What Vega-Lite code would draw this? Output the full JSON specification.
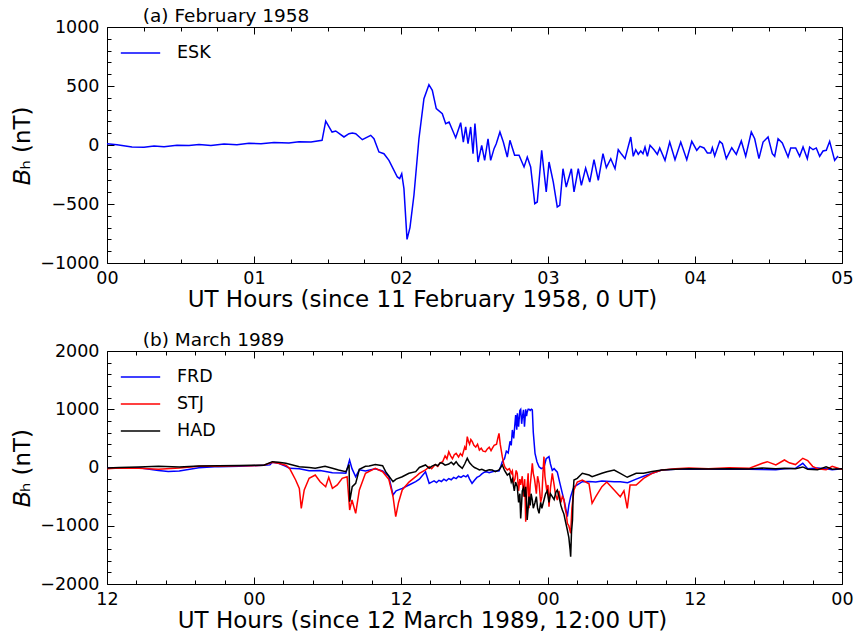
{
"$schema": "https://vega.github.io/schema/vega-lite/v6.json",
"background": "white",
"padding": {"left": 11, "top": 6, "right": 10, "bottom": 2},
"spacing": 18,
"config": {
  "font": "DejaVu Sans",
  "view": {"stroke": "black", "strokeWidth": 1},
  "axis": {"grid": false, "domain": false, "tickColor": "black", "tickWidth": 1, "labelColor": "black", "labelFontSize": 17.5, "titleFontSize": 23, "titleFontWeight": "normal", "titleColor": "black", "labelFont": "DejaVu Sans", "titleFont": "DejaVu Sans", "labelOverlap": false, "labelBound": false, "labelFlush": false},
  "legend": {"labelFontSize": 17.5, "labelFont": "DejaVu Sans", "labelColor": "black"},
  "title": {"fontSize": 18.5, "fontWeight": "normal", "font": "DejaVu Sans", "color": "black", "anchor": "start", "dx": 131, "offset": -7}
},
"resolve": {"scale": {"color": "independent", "x": "independent", "y": "independent"}, "legend": {"color": "independent"}},
"vconcat": [
{
  "width": 735, "height": 236,
  "title": {"text": "(a) February 1958"},
  "data": {"values": [
{"s":"ESK","t":0,"v":10},{"s":"ESK","t":0.068,"v":2},{"s":"ESK","t":0.17,"v":-17},{"s":"ESK","t":0.252,"v":-20},{"s":"ESK","t":0.32,"v":-8},{"s":"ESK","t":0.388,"v":-15},{"s":"ESK","t":0.476,"v":-3},{"s":"ESK","t":0.558,"v":-5},{"s":"ESK","t":0.626,"v":5},{"s":"ESK","t":0.707,"v":-5},{"s":"ESK","t":0.796,"v":8},{"s":"ESK","t":0.884,"v":2},{"s":"ESK","t":0.966,"v":15},{"s":"ESK","t":1.048,"v":10},{"s":"ESK","t":1.136,"v":22},{"s":"ESK","t":1.238,"v":18},{"s":"ESK","t":1.306,"v":28},{"s":"ESK","t":1.388,"v":25},{"s":"ESK","t":1.463,"v":40},{"s":"ESK","t":1.488,"v":203},{"s":"ESK","t":1.531,"v":110},{"s":"ESK","t":1.556,"v":119},{"s":"ESK","t":1.612,"v":68},{"s":"ESK","t":1.646,"v":96},{"s":"ESK","t":1.669,"v":102},{"s":"ESK","t":1.692,"v":96},{"s":"ESK","t":1.737,"v":45},{"s":"ESK","t":1.794,"v":82},{"s":"ESK","t":1.816,"v":53},{"s":"ESK","t":1.85,"v":-59},{"s":"ESK","t":1.884,"v":-74},{"s":"ESK","t":1.918,"v":-130},{"s":"ESK","t":1.975,"v":-271},{"s":"ESK","t":1.991,"v":-285},{"s":"ESK","t":2.005,"v":-243},{"s":"ESK","t":2.02,"v":-370},{"s":"ESK","t":2.041,"v":-800},{"s":"ESK","t":2.061,"v":-700},{"s":"ESK","t":2.088,"v":-426},{"s":"ESK","t":2.122,"v":53},{"s":"ESK","t":2.156,"v":392},{"s":"ESK","t":2.19,"v":511},{"s":"ESK","t":2.213,"v":463},{"s":"ESK","t":2.24,"v":308},{"s":"ESK","t":2.281,"v":265},{"s":"ESK","t":2.304,"v":181},{"s":"ESK","t":2.327,"v":195},{"s":"ESK","t":2.372,"v":62},{"s":"ESK","t":2.406,"v":189},{"s":"ESK","t":2.424,"v":25},{"s":"ESK","t":2.44,"v":153},{"s":"ESK","t":2.456,"v":11},{"s":"ESK","t":2.474,"v":153},{"s":"ESK","t":2.49,"v":-74},{"s":"ESK","t":2.503,"v":181},{"s":"ESK","t":2.524,"v":-144},{"s":"ESK","t":2.549,"v":-3},{"s":"ESK","t":2.569,"v":-130},{"s":"ESK","t":2.592,"v":53},{"s":"ESK","t":2.61,"v":-130},{"s":"ESK","t":2.633,"v":-31},{"s":"ESK","t":2.648,"v":11},{"s":"ESK","t":2.673,"v":110},{"s":"ESK","t":2.696,"v":25},{"s":"ESK","t":2.723,"v":-102},{"s":"ESK","t":2.741,"v":40},{"s":"ESK","t":2.773,"v":-87},{"s":"ESK","t":2.803,"v":-87},{"s":"ESK","t":2.837,"v":-186},{"s":"ESK","t":2.859,"v":-102},{"s":"ESK","t":2.882,"v":-186},{"s":"ESK","t":2.91,"v":-497},{"s":"ESK","t":2.927,"v":-483},{"s":"ESK","t":2.957,"v":-45},{"s":"ESK","t":2.988,"v":-398},{"s":"ESK","t":3.007,"v":-144},{"s":"ESK","t":3.036,"v":-314},{"s":"ESK","t":3.063,"v":-525},{"s":"ESK","t":3.08,"v":-511},{"s":"ESK","t":3.102,"v":-201},{"s":"ESK","t":3.124,"v":-356},{"s":"ESK","t":3.159,"v":-201},{"s":"ESK","t":3.177,"v":-398},{"s":"ESK","t":3.206,"v":-201},{"s":"ESK","t":3.227,"v":-342},{"s":"ESK","t":3.256,"v":-195},{"s":"ESK","t":3.284,"v":-314},{"s":"ESK","t":3.313,"v":-124},{"s":"ESK","t":3.342,"v":-299},{"s":"ESK","t":3.374,"v":-74},{"s":"ESK","t":3.397,"v":-192},{"s":"ESK","t":3.427,"v":-116},{"s":"ESK","t":3.456,"v":-201},{"s":"ESK","t":3.478,"v":-40},{"s":"ESK","t":3.501,"v":-79},{"s":"ESK","t":3.524,"v":-116},{"s":"ESK","t":3.563,"v":68},{"s":"ESK","t":3.58,"v":-96},{"s":"ESK","t":3.597,"v":-40},{"s":"ESK","t":3.614,"v":-79},{"s":"ESK","t":3.631,"v":-51},{"s":"ESK","t":3.646,"v":-74},{"s":"ESK","t":3.66,"v":-17},{"s":"ESK","t":3.676,"v":-96},{"s":"ESK","t":3.694,"v":-3},{"s":"ESK","t":3.721,"v":-40},{"s":"ESK","t":3.744,"v":-79},{"s":"ESK","t":3.76,"v":-25},{"s":"ESK","t":3.796,"v":-130},{"s":"ESK","t":3.828,"v":25},{"s":"ESK","t":3.864,"v":-124},{"s":"ESK","t":3.903,"v":25},{"s":"ESK","t":3.944,"v":-124},{"s":"ESK","t":3.978,"v":31},{"s":"ESK","t":4.012,"v":-45},{"s":"ESK","t":4.034,"v":-11},{"s":"ESK","t":4.061,"v":-25},{"s":"ESK","t":4.084,"v":-68},{"s":"ESK","t":4.107,"v":-68},{"s":"ESK","t":4.118,"v":-23},{"s":"ESK","t":4.134,"v":-93},{"s":"ESK","t":4.168,"v":31},{"s":"ESK","t":4.186,"v":11},{"s":"ESK","t":4.213,"v":-116},{"s":"ESK","t":4.25,"v":-23},{"s":"ESK","t":4.281,"v":-79},{"s":"ESK","t":4.315,"v":34},{"s":"ESK","t":4.345,"v":-96},{"s":"ESK","t":4.383,"v":110},{"s":"ESK","t":4.406,"v":53},{"s":"ESK","t":4.435,"v":-116},{"s":"ESK","t":4.463,"v":25},{"s":"ESK","t":4.497,"v":68},{"s":"ESK","t":4.526,"v":-74},{"s":"ESK","t":4.542,"v":-96},{"s":"ESK","t":4.565,"v":53},{"s":"ESK","t":4.594,"v":17},{"s":"ESK","t":4.633,"v":-102},{"s":"ESK","t":4.651,"v":-25},{"s":"ESK","t":4.685,"v":-25},{"s":"ESK","t":4.712,"v":-96},{"s":"ESK","t":4.735,"v":-17},{"s":"ESK","t":4.764,"v":-116},{"s":"ESK","t":4.78,"v":-17},{"s":"ESK","t":4.803,"v":-40},{"s":"ESK","t":4.825,"v":-25},{"s":"ESK","t":4.848,"v":-96},{"s":"ESK","t":4.871,"v":-51},{"s":"ESK","t":4.893,"v":-45},{"s":"ESK","t":4.916,"v":31},{"s":"ESK","t":4.95,"v":-130},{"s":"ESK","t":4.973,"v":-93}
  ]},
  "layer": [
    {
      "mark": {"type": "line", "strokeWidth": 1.5},
      "encoding": {
        "x": {"field": "t", "type": "quantitative", "scale": {"domain": [0, 5], "nice": false, "zero": false},
          "axis": {"orient": "bottom", "values": [0,0.25,0.5,0.75,1,1.25,1.5,1.75,2,2.25,2.5,2.75,3,3.25,3.5,3.75,4,4.25,4.5,4.75,5],
            "tickSize": {"condition": {"test": "datum.value % 1 === 0", "value": -7}, "value": -4},
            "labelExpr": "datum.value % 1 === 0 ? '0' + datum.value : ''", "labelPadding": 13,
            "title": "UT Hours (since 11 February 1958, 0 UT)", "titleX": 315, "titlePadding": -1}},
        "y": {"field": "v", "type": "quantitative", "scale": {"domain": [-1000, 1000], "nice": false},
          "axis": {"orient": "left", "values": [-1000,-900,-800,-700,-600,-500,-400,-300,-200,-100,0,100,200,300,400,500,600,700,800,900,1000],
            "tickSize": {"condition": {"test": "datum.value % 500 === 0", "value": -7}, "value": -4},
            "format": "d", "labelExpr": "datum.value % 500 === 0 ? datum.label : ''", "labelPadding": 15,
            "title": "𝐵ₕ (nT)", "titlePadding": 5}},
        "color": {"field": "s", "type": "nominal", "scale": {"domain": ["ESK"], "range": ["#0000ff"]},
          "legend": {"title": null, "orient": "top-left", "symbolType": "stroke", "symbolSize": 1550, "symbolStrokeWidth": 1.5, "offset": 13, "padding": 0, "labelOffset": 16, "clipHeight": 26, "rowPadding": 1}}
      }
    },
    {
      "mark": {"type": "line", "opacity": 0},
      "encoding": {
        "x": {"field": "t", "type": "quantitative",
          "axis": {"orient": "top", "values": [0,0.25,0.5,0.75,1,1.25,1.5,1.75,2,2.25,2.5,2.75,3,3.25,3.5,3.75,4,4.25,4.5,4.75,5],
            "tickSize": {"condition": {"test": "datum.value % 1 === 0", "value": -7}, "value": -4},
            "labels": false, "title": null}},
        "y": {"field": "v", "type": "quantitative",
          "axis": {"orient": "right", "values": [-1000,-900,-800,-700,-600,-500,-400,-300,-200,-100,0,100,200,300,400,500,600,700,800,900,1000],
            "tickSize": {"condition": {"test": "datum.value % 500 === 0", "value": -7}, "value": -4},
            "labels": false, "title": null}},
        "detail": {"field": "s", "type": "nominal"}
      }
    }
  ],
  "resolve": {"axis": {"x": "independent", "y": "independent"}}
},
{
  "width": 735, "height": 233,
  "title": {"text": "(b) March 1989"},
  "data": {"values": [
{"s":"FRD","t":0,"v":-10},{"s":"FRD","t":1,"v":-15},{"s":"FRD","t":2.6,"v":-5},{"s":"FRD","t":4.2,"v":-50},{"s":"FRD","t":5.0,"v":-70},{"s":"FRD","t":5.9,"v":-60},{"s":"FRD","t":7.5,"v":-5},{"s":"FRD","t":9.1,"v":15},{"s":"FRD","t":10.8,"v":20},{"s":"FRD","t":11.8,"v":30},{"s":"FRD","t":12.8,"v":40},{"s":"FRD","t":13.3,"v":45},{"s":"FRD","t":13.5,"v":90},{"s":"FRD","t":14.0,"v":72},{"s":"FRD","t":14.6,"v":20},{"s":"FRD","t":14.9,"v":-14},{"s":"FRD","t":15.7,"v":-20},{"s":"FRD","t":16.5,"v":-55},{"s":"FRD","t":17.4,"v":-50},{"s":"FRD","t":18.4,"v":-89},{"s":"FRD","t":19.2,"v":-95},{"s":"FRD","t":19.5,"v":-100},{"s":"FRD","t":19.8,"v":129},{"s":"FRD","t":20.0,"v":-20},{"s":"FRD","t":20.3,"v":-158},{"s":"FRD","t":20.6,"v":-40},{"s":"FRD","t":21.1,"v":-60},{"s":"FRD","t":21.9,"v":-20},{"s":"FRD","t":22.5,"v":-60},{"s":"FRD","t":23.0,"v":-150},{"s":"FRD","t":23.35,"v":-472},{"s":"FRD","t":23.6,"v":-400},{"s":"FRD","t":24.1,"v":-358},{"s":"FRD","t":24.65,"v":-300},{"s":"FRD","t":25.2,"v":-243},{"s":"FRD","t":25.5,"v":-200},
{"s":"FRD","t":26.0,"v":-72},{"s":"FRD","t":26.3,"v":-272},{"s":"FRD","t":26.5,"v":-250},{"s":"FRD","t":26.7,"v":-230},{"s":"FRD","t":26.9,"v":-260},{"s":"FRD","t":27.1,"v":-220},{"s":"FRD","t":27.3,"v":-240},{"s":"FRD","t":27.5,"v":-200},{"s":"FRD","t":27.7,"v":-230},{"s":"FRD","t":27.9,"v":-190},{"s":"FRD","t":28.1,"v":-210},{"s":"FRD","t":28.3,"v":-170},{"s":"FRD","t":28.5,"v":-190},{"s":"FRD","t":28.7,"v":-150},{"s":"FRD","t":28.9,"v":-170},{"s":"FRD","t":29.1,"v":-140},{"s":"FRD","t":29.3,"v":-160},{"s":"FRD","t":29.45,"v":-129},{"s":"FRD","t":29.6,"v":-200},{"s":"FRD","t":29.8,"v":-272},{"s":"FRD","t":30.0,"v":-220},{"s":"FRD","t":30.2,"v":-170},{"s":"FRD","t":30.4,"v":-150},{"s":"FRD","t":30.6,"v":-110},{"s":"FRD","t":30.8,"v":-80},{"s":"FRD","t":31.0,"v":-72},{"s":"FRD","t":31.2,"v":-90},{"s":"FRD","t":31.45,"v":-72},{"s":"FRD","t":31.7,"v":-60},{"s":"FRD","t":32.0,"v":-60},{"s":"FRD","t":32.15,"v":20},{"s":"FRD","t":32.27,"v":100},{"s":"FRD","t":32.45,"v":150},{"s":"FRD","t":32.6,"v":280},{"s":"FRD","t":32.75,"v":250},{"s":"FRD","t":32.9,"v":450},{"s":"FRD","t":33.0,"v":380},{"s":"FRD","t":33.09,"v":644},{"s":"FRD","t":33.2,"v":500},{"s":"FRD","t":33.3,"v":750},{"s":"FRD","t":33.36,"v":900},{"s":"FRD","t":33.45,"v":650},{"s":"FRD","t":33.5,"v":930},{"s":"FRD","t":33.6,"v":700},{"s":"FRD","t":33.7,"v":980},{"s":"FRD","t":33.77,"v":1000},{"s":"FRD","t":33.85,"v":750},{"s":"FRD","t":33.9,"v":850},{"s":"FRD","t":34.0,"v":990},{"s":"FRD","t":34.08,"v":700},{"s":"FRD","t":34.18,"v":1000},{"s":"FRD","t":34.25,"v":880},{"s":"FRD","t":34.3,"v":950},{"s":"FRD","t":34.38,"v":1000},{"s":"FRD","t":34.45,"v":1000},{"s":"FRD","t":34.55,"v":980},{"s":"FRD","t":34.65,"v":1000},{"s":"FRD","t":34.72,"v":990},{"s":"FRD","t":34.8,"v":600},{"s":"FRD","t":34.94,"v":243},{"s":"FRD","t":35.1,"v":100},{"s":"FRD","t":35.27,"v":14},{"s":"FRD","t":35.45,"v":-20},{"s":"FRD","t":35.67,"v":0},{"s":"FRD","t":35.85,"v":150},{"s":"FRD","t":36.08,"v":186},{"s":"FRD","t":36.2,"v":60},{"s":"FRD","t":36.35,"v":-50},{"s":"FRD","t":36.5,"v":-20},{"s":"FRD","t":36.76,"v":-80},{"s":"FRD","t":36.95,"v":-250},{"s":"FRD","t":37.17,"v":-443},{"s":"FRD","t":37.35,"v":-600},{"s":"FRD","t":37.58,"v":-845},{"s":"FRD","t":37.7,"v":-650},{"s":"FRD","t":37.85,"v":-500},{"s":"FRD","t":38.0,"v":-400},{"s":"FRD","t":38.12,"v":-330},
{"s":"FRD","t":38.39,"v":-300},{"s":"FRD","t":38.8,"v":-243},{"s":"FRD","t":39.35,"v":-240},{"s":"FRD","t":39.9,"v":-250},{"s":"FRD","t":40.4,"v":-230},{"s":"FRD","t":41.4,"v":-243},{"s":"FRD","t":41.9,"v":-243},{"s":"FRD","t":42.5,"v":-260},{"s":"FRD","t":43.2,"v":-200},{"s":"FRD","t":43.8,"v":-150},{"s":"FRD","t":44.5,"v":-100},{"s":"FRD","t":45.3,"v":-43},{"s":"FRD","t":46.4,"v":-31},{"s":"FRD","t":47.5,"v":-25},{"s":"FRD","t":49.1,"v":-30},{"s":"FRD","t":50.8,"v":-25},{"s":"FRD","t":52.4,"v":-30},{"s":"FRD","t":53.5,"v":-35},{"s":"FRD","t":54.6,"v":-40},{"s":"FRD","t":55.3,"v":-20},{"s":"FRD","t":56.2,"v":-14},{"s":"FRD","t":56.8,"v":72},{"s":"FRD","t":57.2,"v":-20},{"s":"FRD","t":58.0,"v":-10},{"s":"FRD","t":58.7,"v":-20},{"s":"FRD","t":59.2,"v":-40},{"s":"FRD","t":60,"v":-20},
{"s":"STJ","t":0,"v":-20},{"s":"STJ","t":1,"v":-10},{"s":"STJ","t":2.6,"v":-15},{"s":"STJ","t":4.2,"v":-30},{"s":"STJ","t":5.9,"v":-10},{"s":"STJ","t":7.5,"v":20},{"s":"STJ","t":9.1,"v":20},{"s":"STJ","t":10.8,"v":30},{"s":"STJ","t":11.8,"v":30},{"s":"STJ","t":12.8,"v":40},{"s":"STJ","t":13.5,"v":90},{"s":"STJ","t":14.0,"v":72},{"s":"STJ","t":14.6,"v":40},{"s":"STJ","t":14.9,"v":-14},{"s":"STJ","t":15.4,"v":-215},{"s":"STJ","t":15.7,"v":-358},{"s":"STJ","t":15.86,"v":-701},{"s":"STJ","t":16.1,"v":-386},{"s":"STJ","t":16.5,"v":-186},{"s":"STJ","t":17.0,"v":-129},{"s":"STJ","t":17.4,"v":-244},{"s":"STJ","t":17.85,"v":-330},{"s":"STJ","t":18.1,"v":-168},{"s":"STJ","t":18.4,"v":-358},{"s":"STJ","t":18.8,"v":-300},{"s":"STJ","t":19.2,"v":-186},{"s":"STJ","t":19.6,"v":-158},{"s":"STJ","t":19.81,"v":-730},{"s":"STJ","t":20.0,"v":-558},{"s":"STJ","t":20.3,"v":-787},{"s":"STJ","t":20.6,"v":-386},{"s":"STJ","t":21.1,"v":-100},{"s":"STJ","t":21.9,"v":-14},{"s":"STJ","t":22.5,"v":-72},{"s":"STJ","t":23.0,"v":-200},{"s":"STJ","t":23.35,"v":-500},{"s":"STJ","t":23.57,"v":-845},{"s":"STJ","t":23.8,"v":-600},{"s":"STJ","t":24.1,"v":-386},{"s":"STJ","t":24.65,"v":-250},{"s":"STJ","t":25.2,"v":-158},{"s":"STJ","t":25.5,"v":-100},
{"s":"STJ","t":26.0,"v":-43},{"s":"STJ","t":26.3,"v":14},{"s":"STJ","t":26.5,"v":-20},{"s":"STJ","t":26.8,"v":50},{"s":"STJ","t":27.0,"v":20},{"s":"STJ","t":27.2,"v":80},{"s":"STJ","t":27.4,"v":100},{"s":"STJ","t":27.6,"v":200},{"s":"STJ","t":27.75,"v":150},{"s":"STJ","t":27.9,"v":271},{"s":"STJ","t":28.05,"v":200},{"s":"STJ","t":28.2,"v":150},{"s":"STJ","t":28.35,"v":220},{"s":"STJ","t":28.5,"v":243},{"s":"STJ","t":28.7,"v":180},{"s":"STJ","t":28.85,"v":240},{"s":"STJ","t":29.0,"v":200},{"s":"STJ","t":29.2,"v":350},{"s":"STJ","t":29.3,"v":300},{"s":"STJ","t":29.41,"v":529},{"s":"STJ","t":29.5,"v":450},{"s":"STJ","t":29.6,"v":400},{"s":"STJ","t":29.7,"v":480},{"s":"STJ","t":29.82,"v":443},{"s":"STJ","t":29.95,"v":380},{"s":"STJ","t":30.1,"v":350},{"s":"STJ","t":30.25,"v":400},{"s":"STJ","t":30.4,"v":300},{"s":"STJ","t":30.55,"v":330},{"s":"STJ","t":30.7,"v":280},{"s":"STJ","t":30.9,"v":271},{"s":"STJ","t":31.05,"v":320},{"s":"STJ","t":31.2,"v":350},{"s":"STJ","t":31.35,"v":290},{"s":"STJ","t":31.45,"v":329},{"s":"STJ","t":31.6,"v":380},{"s":"STJ","t":31.8,"v":400},{"s":"STJ","t":31.9,"v":500},{"s":"STJ","t":32.0,"v":587},{"s":"STJ","t":32.1,"v":400},{"s":"STJ","t":32.27,"v":186},{"s":"STJ","t":32.4,"v":50},{"s":"STJ","t":32.5,"v":0},{"s":"STJ","t":32.68,"v":-43},{"s":"STJ","t":32.85,"v":-20},{"s":"STJ","t":33.0,"v":-100},{"s":"STJ","t":33.09,"v":-60},{"s":"STJ","t":33.2,"v":-250},{"s":"STJ","t":33.3,"v":-200},{"s":"STJ","t":33.4,"v":-50},{"s":"STJ","t":33.49,"v":-100},{"s":"STJ","t":33.6,"v":-400},{"s":"STJ","t":33.7,"v":-200},{"s":"STJ","t":33.77,"v":-300},{"s":"STJ","t":33.9,"v":-150},{"s":"STJ","t":34.0,"v":-500},{"s":"STJ","t":34.1,"v":-200},{"s":"STJ","t":34.18,"v":-931},{"s":"STJ","t":34.25,"v":-500},{"s":"STJ","t":34.3,"v":-300},{"s":"STJ","t":34.38,"v":-100},{"s":"STJ","t":34.45,"v":-700},{"s":"STJ","t":34.55,"v":-300},{"s":"STJ","t":34.62,"v":-150},{"s":"STJ","t":34.72,"v":72},{"s":"STJ","t":34.8,"v":-100},{"s":"STJ","t":34.9,"v":-200},{"s":"STJ","t":35.05,"v":-450},{"s":"STJ","t":35.15,"v":-150},{"s":"STJ","t":35.27,"v":-272},{"s":"STJ","t":35.4,"v":-600},{"s":"STJ","t":35.5,"v":-500},{"s":"STJ","t":35.6,"v":-50},{"s":"STJ","t":35.67,"v":186},{"s":"STJ","t":35.75,"v":-150},{"s":"STJ","t":35.9,"v":-400},{"s":"STJ","t":36.0,"v":-300},{"s":"STJ","t":36.08,"v":-673},{"s":"STJ","t":36.2,"v":-350},{"s":"STJ","t":36.35,"v":-100},{"s":"STJ","t":36.5,"v":-300},{"s":"STJ","t":36.6,"v":-450},{"s":"STJ","t":36.76,"v":-558},{"s":"STJ","t":36.9,"v":-400},{"s":"STJ","t":37.05,"v":-600},{"s":"STJ","t":37.17,"v":-500},{"s":"STJ","t":37.3,"v":-550},{"s":"STJ","t":37.4,"v":-700},{"s":"STJ","t":37.5,"v":-800},{"s":"STJ","t":37.58,"v":-959},{"s":"STJ","t":37.7,"v":-1000},{"s":"STJ","t":37.85,"v":-1130},{"s":"STJ","t":37.95,"v":-700},{"s":"STJ","t":38.12,"v":-386},
{"s":"STJ","t":38.39,"v":-250},{"s":"STJ","t":38.8,"v":-215},{"s":"STJ","t":39.35,"v":-280},{"s":"STJ","t":39.6,"v":-615},{"s":"STJ","t":39.9,"v":-500},{"s":"STJ","t":40.4,"v":-330},{"s":"STJ","t":40.8,"v":-250},{"s":"STJ","t":41.4,"v":-386},{"s":"STJ","t":41.9,"v":-501},{"s":"STJ","t":42.2,"v":-400},{"s":"STJ","t":42.47,"v":-701},{"s":"STJ","t":42.7,"v":-300},{"s":"STJ","t":43.2,"v":-300},{"s":"STJ","t":43.8,"v":-186},{"s":"STJ","t":44.5,"v":-100},{"s":"STJ","t":45.3,"v":-43},{"s":"STJ","t":46.4,"v":-20},{"s":"STJ","t":47.5,"v":-10},{"s":"STJ","t":49.1,"v":-20},{"s":"STJ","t":50.8,"v":-5},{"s":"STJ","t":52.4,"v":-15},{"s":"STJ","t":53.5,"v":72},{"s":"STJ","t":53.9,"v":100},{"s":"STJ","t":54.6,"v":43},{"s":"STJ","t":55.3,"v":129},{"s":"STJ","t":55.7,"v":80},{"s":"STJ","t":56.2,"v":50},{"s":"STJ","t":56.8,"v":158},{"s":"STJ","t":57.2,"v":120},{"s":"STJ","t":57.6,"v":20},{"s":"STJ","t":58.0,"v":-20},{"s":"STJ","t":58.7,"v":-40},{"s":"STJ","t":59.2,"v":20},{"s":"STJ","t":59.8,"v":-20},{"s":"STJ","t":60,"v":-30},
{"s":"HAD","t":0,"v":-10},{"s":"HAD","t":1,"v":0},{"s":"HAD","t":2.6,"v":10},{"s":"HAD","t":4.2,"v":20},{"s":"HAD","t":5.9,"v":10},{"s":"HAD","t":7.5,"v":25},{"s":"HAD","t":9.1,"v":30},{"s":"HAD","t":10.8,"v":35},{"s":"HAD","t":11.8,"v":40},{"s":"HAD","t":12.8,"v":40},{"s":"HAD","t":13.5,"v":100},{"s":"HAD","t":14.0,"v":90},{"s":"HAD","t":14.6,"v":72},{"s":"HAD","t":15.7,"v":14},{"s":"HAD","t":16.5,"v":0},{"s":"HAD","t":17.0,"v":-14},{"s":"HAD","t":17.8,"v":20},{"s":"HAD","t":18.4,"v":-14},{"s":"HAD","t":18.9,"v":-43},{"s":"HAD","t":19.5,"v":-72},{"s":"HAD","t":19.76,"v":50},{"s":"HAD","t":19.81,"v":-587},{"s":"HAD","t":20.02,"v":-330},{"s":"HAD","t":20.3,"v":-272},{"s":"HAD","t":20.6,"v":-30},{"s":"HAD","t":21.1,"v":20},{"s":"HAD","t":21.4,"v":26},{"s":"HAD","t":21.9,"v":50},{"s":"HAD","t":22.5,"v":30},{"s":"HAD","t":22.75,"v":-72},{"s":"HAD","t":23.35,"v":-243},{"s":"HAD","t":23.6,"v":-200},{"s":"HAD","t":24.1,"v":-158},{"s":"HAD","t":24.65,"v":-100},{"s":"HAD","t":25.2,"v":-72},{"s":"HAD","t":25.5,"v":0},
{"s":"HAD","t":26.0,"v":43},{"s":"HAD","t":26.3,"v":-14},{"s":"HAD","t":26.5,"v":20},{"s":"HAD","t":26.8,"v":50},{"s":"HAD","t":27.0,"v":30},{"s":"HAD","t":27.2,"v":80},{"s":"HAD","t":27.4,"v":72},{"s":"HAD","t":27.6,"v":40},{"s":"HAD","t":27.9,"v":60},{"s":"HAD","t":28.1,"v":90},{"s":"HAD","t":28.3,"v":50},{"s":"HAD","t":28.5,"v":100},{"s":"HAD","t":28.7,"v":40},{"s":"HAD","t":29.0,"v":-14},{"s":"HAD","t":29.2,"v":60},{"s":"HAD","t":29.41,"v":158},{"s":"HAD","t":29.6,"v":80},{"s":"HAD","t":29.82,"v":30},{"s":"HAD","t":30.0,"v":0},{"s":"HAD","t":30.2,"v":-20},{"s":"HAD","t":30.4,"v":-43},{"s":"HAD","t":30.6,"v":-30},{"s":"HAD","t":30.9,"v":-60},{"s":"HAD","t":31.2,"v":-40},{"s":"HAD","t":31.45,"v":-43},{"s":"HAD","t":31.7,"v":-70},{"s":"HAD","t":32.0,"v":-43},{"s":"HAD","t":32.27,"v":43},{"s":"HAD","t":32.45,"v":-50},{"s":"HAD","t":32.68,"v":-129},{"s":"HAD","t":32.85,"v":-100},{"s":"HAD","t":33.0,"v":-250},{"s":"HAD","t":33.09,"v":-200},{"s":"HAD","t":33.25,"v":-400},{"s":"HAD","t":33.35,"v":-250},{"s":"HAD","t":33.49,"v":-330},{"s":"HAD","t":33.6,"v":-600},{"s":"HAD","t":33.7,"v":-450},{"s":"HAD","t":33.77,"v":-873},{"s":"HAD","t":33.85,"v":-600},{"s":"HAD","t":33.9,"v":-400},{"s":"HAD","t":34.0,"v":-350},{"s":"HAD","t":34.1,"v":-500},{"s":"HAD","t":34.18,"v":-330},{"s":"HAD","t":34.25,"v":-600},{"s":"HAD","t":34.3,"v":-900},{"s":"HAD","t":34.38,"v":-700},{"s":"HAD","t":34.45,"v":-500},{"s":"HAD","t":34.55,"v":-650},{"s":"HAD","t":34.62,"v":-450},{"s":"HAD","t":34.72,"v":-558},{"s":"HAD","t":34.8,"v":-700},{"s":"HAD","t":34.94,"v":-600},{"s":"HAD","t":35.05,"v":-500},{"s":"HAD","t":35.15,"v":-700},{"s":"HAD","t":35.27,"v":-787},{"s":"HAD","t":35.4,"v":-600},{"s":"HAD","t":35.5,"v":-700},{"s":"HAD","t":35.67,"v":-558},{"s":"HAD","t":35.8,"v":-450},{"s":"HAD","t":35.94,"v":-400},{"s":"HAD","t":36.08,"v":-600},{"s":"HAD","t":36.2,"v":-450},{"s":"HAD","t":36.35,"v":-500},{"s":"HAD","t":36.5,"v":-550},{"s":"HAD","t":36.65,"v":-420},{"s":"HAD","t":36.76,"v":-386},{"s":"HAD","t":36.9,"v":-500},{"s":"HAD","t":37.05,"v":-650},{"s":"HAD","t":37.17,"v":-730},{"s":"HAD","t":37.3,"v":-800},{"s":"HAD","t":37.45,"v":-950},{"s":"HAD","t":37.58,"v":-1073},{"s":"HAD","t":37.7,"v":-1200},{"s":"HAD","t":37.8,"v":-1400},{"s":"HAD","t":37.85,"v":-1532},{"s":"HAD","t":37.92,"v":-1100},{"s":"HAD","t":38.0,"v":-900},{"s":"HAD","t":38.06,"v":-400},{"s":"HAD","t":38.12,"v":-215},
{"s":"HAD","t":38.39,"v":-186},{"s":"HAD","t":38.8,"v":-100},{"s":"HAD","t":39.35,"v":-129},{"s":"HAD","t":39.6,"v":-158},{"s":"HAD","t":40.4,"v":-100},{"s":"HAD","t":40.8,"v":-72},{"s":"HAD","t":41.4,"v":-43},{"s":"HAD","t":41.9,"v":-100},{"s":"HAD","t":42.47,"v":-168},{"s":"HAD","t":43.2,"v":-100},{"s":"HAD","t":43.8,"v":-100},{"s":"HAD","t":44.5,"v":-70},{"s":"HAD","t":45.3,"v":-43},{"s":"HAD","t":46.4,"v":-30},{"s":"HAD","t":47.5,"v":-20},{"s":"HAD","t":49.1,"v":-25},{"s":"HAD","t":50.8,"v":-20},{"s":"HAD","t":52.4,"v":-25},{"s":"HAD","t":53.5,"v":-10},{"s":"HAD","t":54.6,"v":-20},{"s":"HAD","t":55.3,"v":-15},{"s":"HAD","t":56.2,"v":-20},{"s":"HAD","t":56.8,"v":10},{"s":"HAD","t":57.2,"v":-30},{"s":"HAD","t":58.0,"v":-40},{"s":"HAD","t":58.7,"v":14},{"s":"HAD","t":59.2,"v":-30},{"s":"HAD","t":60,"v":-20}
  ]},
  "layer": [
    {
      "mark": {"type": "line", "strokeWidth": 1.5},
      "encoding": {
        "x": {"field": "t", "type": "quantitative", "scale": {"domain": [0, 60], "nice": false, "zero": false},
          "axis": {"orient": "bottom", "values": [0,2.4,4.8,7.2,9.6,12,14.4,16.8,19.2,21.6,24,26.4,28.8,31.2,33.6,36,38.4,40.8,43.2,45.6,48,50.4,52.8,55.2,57.6,60],
            "tickSize": {"condition": {"test": "datum.value % 12 === 0", "value": -7}, "value": -4},
            "labelExpr": "datum.value % 24 === 0 ? '12' : (datum.value % 12 === 0 ? '00' : '')", "labelPadding": 13,
            "title": "UT Hours (since 12 March 1989, 12:00 UT)", "titleX": 315, "titlePadding": -1}},
        "y": {"field": "v", "type": "quantitative", "scale": {"domain": [-2000, 2000], "nice": false},
          "axis": {"orient": "left", "values": [-2000,-1800,-1600,-1400,-1200,-1000,-800,-600,-400,-200,0,200,400,600,800,1000,1200,1400,1600,1800,2000],
            "tickSize": {"condition": {"test": "datum.value % 1000 === 0", "value": -7}, "value": -4},
            "format": "d", "labelExpr": "datum.value % 1000 === 0 ? datum.label : ''", "labelPadding": 15,
            "title": "𝐵ₕ (nT)", "titlePadding": 5}},
        "color": {"field": "s", "type": "nominal", "sort": null, "scale": {"domain": ["FRD", "STJ", "HAD"], "range": ["#0000ff", "#ff0000", "#000000"]},
          "legend": {"title": null, "orient": "top-left", "symbolType": "stroke", "symbolSize": 1550, "symbolStrokeWidth": 1.5, "offset": 13, "padding": 0, "labelOffset": 16, "clipHeight": 26, "rowPadding": 1}}
      }
    },
    {
      "mark": {"type": "line", "opacity": 0},
      "encoding": {
        "x": {"field": "t", "type": "quantitative",
          "axis": {"orient": "top", "values": [0,2.4,4.8,7.2,9.6,12,14.4,16.8,19.2,21.6,24,26.4,28.8,31.2,33.6,36,38.4,40.8,43.2,45.6,48,50.4,52.8,55.2,57.6,60],
            "tickSize": {"condition": {"test": "datum.value % 12 === 0", "value": -7}, "value": -4},
            "labels": false, "title": null}},
        "y": {"field": "v", "type": "quantitative",
          "axis": {"orient": "right", "values": [-2000,-1800,-1600,-1400,-1200,-1000,-800,-600,-400,-200,0,200,400,600,800,1000,1200,1400,1600,1800,2000],
            "tickSize": {"condition": {"test": "datum.value % 1000 === 0", "value": -7}, "value": -4},
            "labels": false, "title": null}},
        "detail": {"field": "s", "type": "nominal"}
      }
    }
  ],
  "resolve": {"axis": {"x": "independent", "y": "independent"}}
}
]
}
